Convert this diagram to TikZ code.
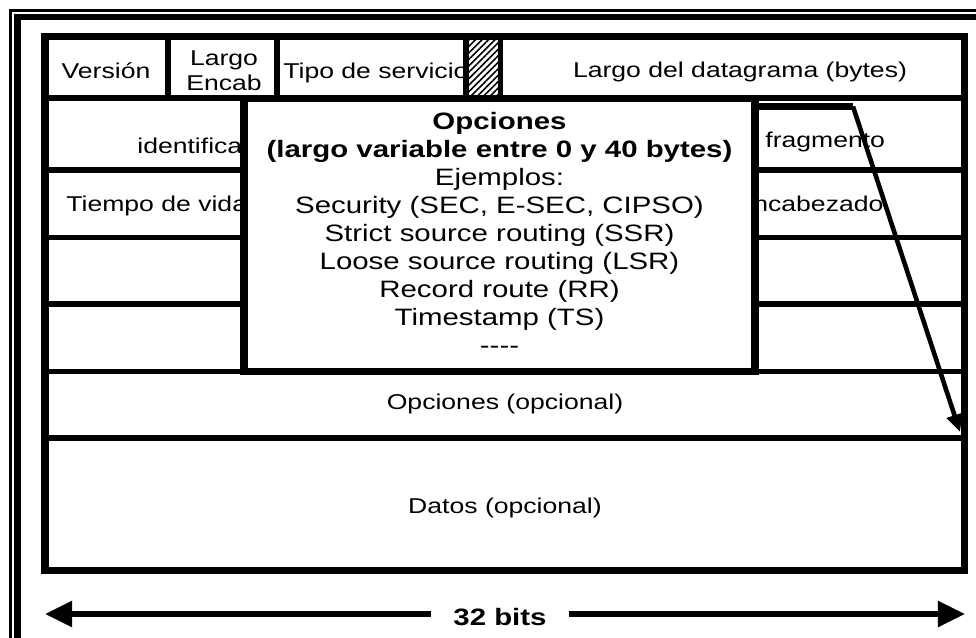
\documentclass[tikz,border=0pt]{standalone}
\usepackage{fontspec}
\setmainfont{Liberation Sans}[FakeStretch=1.24]
\usetikzlibrary{arrows.meta,patterns.meta}

\begin{document}
\begin{tikzpicture}[x=0.02cm, y=-0.02cm,
    borde/.style={line width=4pt},
    linea/.style={line width=3.4pt},
    campo/.style={inner sep=0pt, font=\fontsize{12.2}{14.2}\selectfont},
    opcion/.style={inner sep=0pt, align=center, font=\fontsize{13.5}{15.9}\selectfont},
    flecha/.style={line width=3.4pt, -{Triangle[length=15.4pt,width=14.2pt]}}]
    \useasboundingbox (0,0) rectangle (976,638);

    % Draw outer frame
    \draw[line width=1.7pt] (10.5,638) -- (10.5,10.5) -- (976,10.5);
    \draw[line width=3.8pt] (17.5,638) -- (17.5,17) -- (976,17);

    % Hatched field
    \fill[pattern={Lines[angle=45,distance=2.6pt,line width=0.9pt]}] (469,40) rectangle (498,95);

    % Field names
    \node[campo, anchor=base] (version) at (106,79) {Versión};
    \node[campo, anchor=north, align=center, font=\fontsize{12.2}{14.2}\selectfont] (largoenc) at (224,50) {Largo\\Encab};
    \node[campo, anchor=base west] (tipo) at (283,79) {Tipo de servicio};
    \node[campo, anchor=base] (largodat) at (740,78) {Largo del datagrama (bytes)};
    \node[campo, anchor=base west] (ident) at (137,154) {identifica};
    \node[campo, anchor=base west] (frag) at (765,148) {fragmento};
    \node[campo, anchor=base west] (vida) at (66,212) {Tiempo de vida};
    \node[campo, anchor=base west] (checksum) at (753,212) {ncabezado};
    \node[campo, anchor=base] (opcional) at (505,409) {Opciones (opcional)};
    \node[campo, anchor=base] (datos) at (505,513) {Datos (opcional)};

    % Draw the table
    \foreach \y in {98,170,237.5,304,371.5,438}
        \draw[linea] (45,\y) -- (964,\y);
    \foreach \x in {168,277,466,500.5}
        \draw[linea] (\x,36.5) -- (\x,98);
    \draw[borde] (45,36.5) rectangle (964,570.5);

    % Options box on top of the table
    \filldraw[borde, fill=white] (244,98.5) rectangle (755,371.5);
    \node[opcion, anchor=north] (opciones) at (499.5,112) {\textbf{Opciones}\\
        \textbf{(largo variable entre 0 y 40 bytes)}\\
        Ejemplos:\\
        Security (SEC, E-SEC, CIPSO)\\
        Strict source routing (SSR)\\
        Loose source routing (LSR)\\
        Record route (RR)\\
        Timestamp (TS)\\
        -{}-{}-{}-};

    % Pointer to the options field
    \coordinate (marca) at (755,106.5);
    \coordinate (codo) at (853,106.5);
    \coordinate (destino) at (960,432);
    \draw[borde] (marca) -- (codo);
    \draw[line width=2.6pt, -{Triangle[length=10pt,width=9pt]}] (codo) -- (destino);

    % Width of the header
    \node[inner xsep=12.8pt, inner ysep=0pt, anchor=base, font=\bfseries\fontsize{13.5}{16}\selectfont] (bits) at (500,625) {32 bits};
    \coordinate (izq) at (45,614);
    \coordinate (der) at (965,614);
    \draw[flecha] (bits.west |- izq) -- (izq);
    \draw[flecha] (bits.east |- der) -- (der);
\end{tikzpicture}
\end{document}
